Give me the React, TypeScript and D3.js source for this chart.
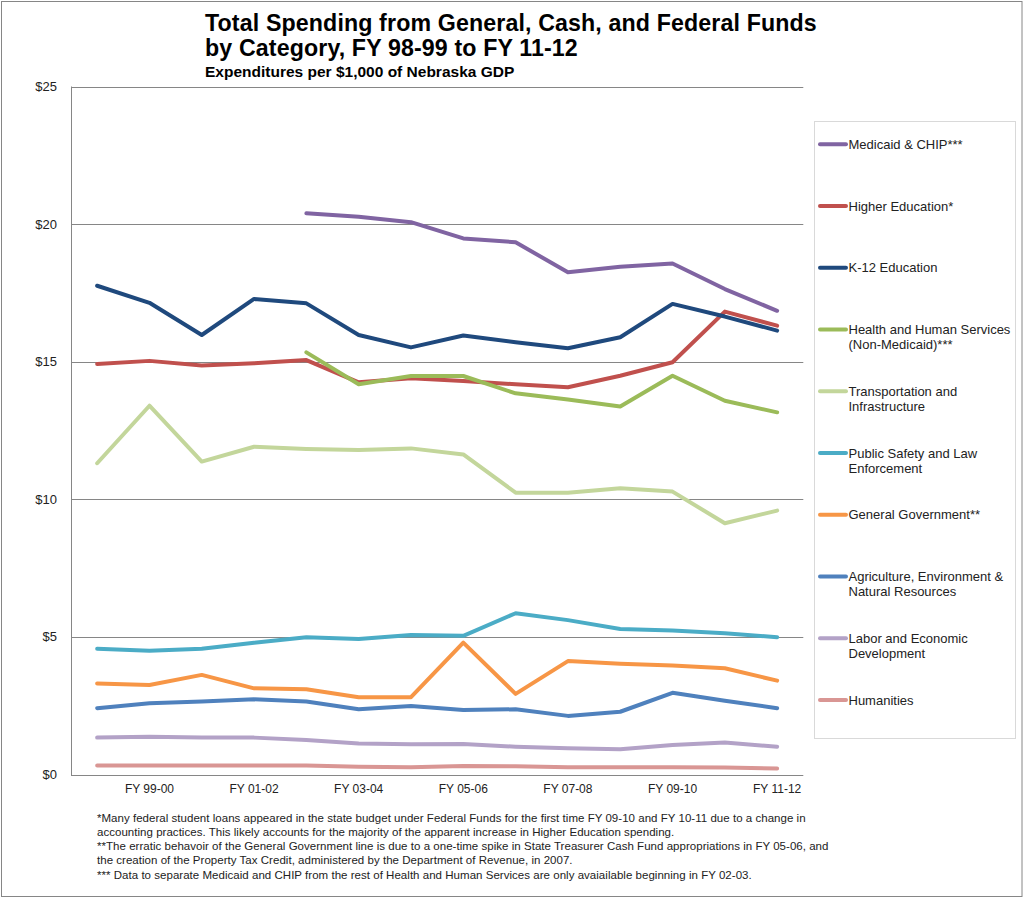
import React from "react";
import * as d3 from "d3";

const categories = [
  "FY 98-99", "FY 99-00", "FY 00-01", "FY 01-02", "FY 02-03", "FY 03-04", "FY 04-05",
  "FY 05-06", "FY 06-07", "FY 07-08", "FY 08-09", "FY 09-10", "FY 10-11", "FY 11-12",
];
const tickLabels = ["FY 99-00", "FY 01-02", "FY 03-04", "FY 05-06", "FY 07-08", "FY 09-10", "FY 11-12"];
const yTicks = [0, 5, 10, 15, 20, 25];

const medicaid = [null, null, null, null, 20.39, 20.27, 20.07, 19.48, 19.34, 18.25, 18.45, 18.57, 17.64, 16.85];
const higherEd = [14.92, 15.03, 14.86, 14.94, 15.06, 14.25, 14.4, 14.3, 14.18, 14.07, 14.49, 14.98, 16.82, 16.31];
const k12 = [17.76, 17.14, 15.97, 17.28, 17.12, 15.97, 15.52, 15.95, 15.71, 15.49, 15.89, 17.1, 16.64, 16.13];
const hhs = [null, null, null, null, 15.34, 14.18, 14.48, 14.48, 13.85, 13.63, 13.37, 14.49, 13.58, 13.16];
const transportation = [11.31, 13.4, 11.37, 11.91, 11.83, 11.79, 11.85, 11.63, 10.24, 10.24, 10.4, 10.28, 9.13, 9.59];
const publicSafety = [4.57, 4.5, 4.57, 4.79, 4.99, 4.92, 5.07, 5.04, 5.86, 5.61, 5.29, 5.23, 5.13, 4.99];
const generalGov = [3.31, 3.25, 3.62, 3.13, 3.1, 2.81, 2.81, 4.79, 2.93, 4.12, 4.02, 3.96, 3.86, 3.41];
const agriculture = [2.41, 2.59, 2.65, 2.73, 2.65, 2.37, 2.49, 2.34, 2.37, 2.13, 2.28, 2.97, 2.68, 2.41];
const labor = [1.34, 1.37, 1.34, 1.34, 1.25, 1.13, 1.1, 1.11, 1.01, 0.95, 0.92, 1.07, 1.16, 1.01];
const humanities = [0.33, 0.33, 0.33, 0.33, 0.33, 0.28, 0.26, 0.31, 0.3, 0.26, 0.26, 0.26, 0.25, 0.22];

const seriesNames = [
  ["Medicaid & CHIP***"],
  ["Higher Education*"],
  ["K-12 Education"],
  ["Health and Human Services", "(Non-Medicaid)***"],
  ["Transportation and", "Infrastructure"],
  ["Public Safety and Law", "Enforcement"],
  ["General Government**"],
  ["Agriculture, Environment &", "Natural Resources"],
  ["Labor and Economic", "Development"],
  ["Humanities"],
];
const seriesValues = [medicaid, higherEd, k12, hhs, transportation, publicSafety, generalGov, agriculture, labor, humanities];
const seriesColors = ["#8064A2", "#C0504D", "#1F497D", "#9BBB59", "#C3D69B", "#4BACC6", "#F79646", "#4F81BD", "#B3A2C7", "#D99694"];

const footnotes = [
  "*Many federal student loans appeared in the state budget under Federal Funds for the first time FY 09-10 and FY 10-11 due to a change in",
  "accounting practices. This likely accounts for the majority of the apparent increase in Higher Education spending.",
  "**The erratic behavoir of the General Government line is due to a one-time spike in State Treasurer Cash Fund appropriations in FY 05-06, and",
  "the creation of the Property Tax Credit, administered by the Department of Revenue, in 2007.",
  "*** Data to separate Medicaid and CHIP from the rest of Health and Human Services are only avaiailable beginning in FY 02-03.",
];

const W = 1024;
const H = 898;
const FONT = "'Liberation Sans', Arial, sans-serif";

export default function App() {
  const left = 71;
  const right = 803.3;
  const top = 86.5;
  const bottom = 774.5;

  const x = d3.scaleBand<string>().domain(categories).range([left, right]);
  const cx = (c: string) => (x(c) as number) + x.bandwidth() / 2;
  const y = d3.scaleLinear().domain([0, 25]).range([bottom, top]);

  const line = d3
    .line<number | null>()
    .defined((d) => d != null)
    .x((_, i) => cx(categories[i]))
    .y((d) => y(d as number));

  const legendX = 814.5;
  const legendY = 121.5;
  const legendW = 201;
  const legendH = 617;
  const entryY0 = 144.3;
  const entryStep = 61.75;

  return (
    <svg
      width={W}
      height={H}
      style={{ position: "absolute", left: 0, top: 0, background: "#fff" }}
      fontFamily={FONT}
    >
      <rect x={0} y={0} width={W} height={H} fill="#fff" />
      <rect x={1.5} y={1.5} width={W - 3.5} height={H - 3} fill="none" stroke="#868686" strokeWidth={1} />

      {/* titles */}
      <text x={205} y={31} fontSize={23.2} fontWeight="bold" fill="#000" letterSpacing={0.13}>
        Total Spending from General, Cash, and Federal Funds
      </text>
      <text x={205} y={56} fontSize={23.2} fontWeight="bold" fill="#000" letterSpacing={0.13}>
        by Category, FY 98-99 to FY 11-12
      </text>
      <text x={205} y={77} fontSize={15.5} fontWeight="bold" fill="#000">
        Expenditures per $1,000 of Nebraska GDP
      </text>

      {/* gridlines */}
      {yTicks.filter((t) => t > 0).map((t) => (
        <line key={t} x1={left} x2={right} y1={Math.round(y(t)) + 0.5} y2={Math.round(y(t)) + 0.5} stroke="#868686" strokeWidth={1} />
      ))}
      {/* axes */}
      <line x1={left + 0.5} x2={left + 0.5} y1={top} y2={bottom + 0.5} stroke="#868686" strokeWidth={1} />
      <line x1={left} x2={right} y1={Math.round(bottom) + 0.5} y2={Math.round(bottom) + 0.5} stroke="#868686" strokeWidth={1} />

      {yTicks.map((t) => (
        <text key={t} x={57} y={y(t) + 4.5} fontSize={13} textAnchor="end" fill="#222">
          {`$${t}`}
        </text>
      ))}
      {tickLabels.map((c) => (
        <text key={c} x={cx(c)} y={793} fontSize={12} textAnchor="middle" fill="#222">
          {c}
        </text>
      ))}

      {/* series */}
      {seriesValues.map((vals, i) => (
        <path
          key={i}
          d={line(vals) || ""}
          fill="none"
          stroke={seriesColors[i]}
          strokeWidth={4}
          strokeLinejoin="round"
          strokeLinecap="round"
        />
      ))}

      {/* legend */}
      <rect x={legendX} y={legendY} width={legendW} height={legendH} fill="#fff" stroke="#D9D9D9" strokeWidth={1} />
      {seriesNames.map((lines, i) => {
        const ey = entryY0 + i * entryStep;
        return (
          <g key={i}>
            <line x1={820} x2={846} y1={ey} y2={ey} stroke={seriesColors[i]} strokeWidth={4} strokeLinecap="round" />
            {lines.map((l, j) => (
              <text key={j} x={848.5} y={ey + 4.5 + j * 15} fontSize={13} fill="#222">
                {l}
              </text>
            ))}
          </g>
        );
      })}

      {/* footnotes */}
      {footnotes.map((f, i) => (
        <text key={i} x={97} y={821.7 + i * 14.25} fontSize={11.5} fill="#222" letterSpacing={0.03}>
          {f}
        </text>
      ))}
    </svg>
  );
}
